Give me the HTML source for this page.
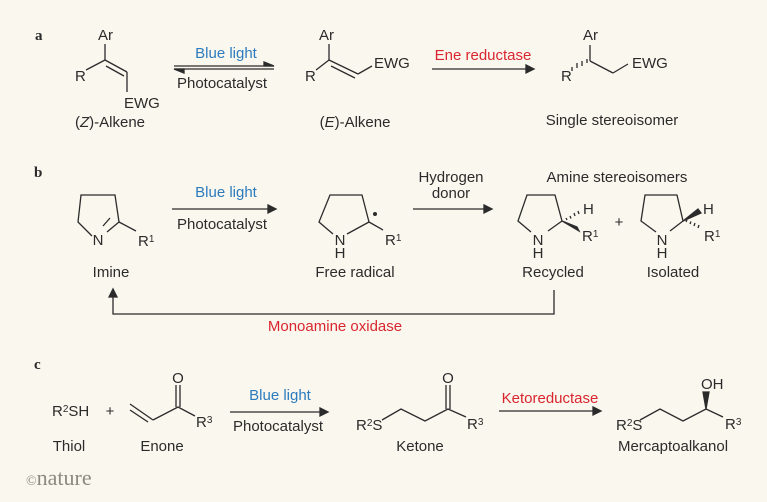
<!DOCTYPE html>
<html><head><meta charset="utf-8"><style>
html,body{margin:0;padding:0;background:#faf7ef;}
svg{display:block;}
text{font-family:"Liberation Sans",sans-serif;font-size:15px;fill:#2b2b2b;}
.m{text-anchor:middle;}
.b{fill:#2b7bbd;}
.r{fill:#d9262e;}
.s{font-size:10px;}
line,polyline,path{stroke:#2b2b2b;stroke-width:1.3;fill:none;}
.f{fill:#2b2b2b !important;}
</style></head><body>
<svg width="767" height="502" viewBox="0 0 767 502" xmlns="http://www.w3.org/2000/svg">
<rect width="767" height="502" fill="#faf7ef"/>
<!-- Panel a -->
<text x="35" y="40" style="font-weight:bold;font-family:'Liberation Serif',serif;font-size:15px">a</text>
<text x="98" y="40">Ar</text>
<line x1="105" y1="44" x2="105" y2="60"/>
<text x="75" y="81">R</text>
<line x1="86" y1="70" x2="105" y2="60"/>
<line x1="105" y1="60" x2="127" y2="72"/>
<line x1="106" y1="66" x2="124" y2="76"/>
<line x1="127" y1="72" x2="127" y2="92"/>
<text x="124" y="108">EWG</text>
<text class="m" x="110" y="127">(<tspan font-style="italic">Z</tspan>)-Alkene</text>
<text class="m b" x="226" y="58">Blue light</text>
<line x1="174" y1="66" x2="274" y2="66"/>
<path d="M264 62 L274 66 L264 66 Z" class="f" stroke-width="0.8"/>
<line x1="174" y1="69" x2="274" y2="69"/>
<path d="M184 73 L174 69 L184 69 Z" class="f" stroke-width="0.8"/>
<text class="m" x="222" y="88">Photocatalyst</text>
<text x="319" y="40">Ar</text>
<line x1="329" y1="44" x2="329" y2="60"/>
<text x="305" y="81">R</text>
<line x1="316" y1="70" x2="329" y2="60"/>
<line x1="329" y1="60" x2="358" y2="74"/>
<line x1="331" y1="66" x2="355" y2="78"/>
<line x1="358" y1="74" x2="372" y2="66"/>
<text x="374" y="68">EWG</text>
<text class="m" x="355" y="127">(<tspan font-style="italic">E</tspan>)-Alkene</text>
<text class="m r" x="483" y="60">Ene reductase</text>
<line x1="432" y1="69" x2="528" y2="69"/>
<path d="M526 65 L534 69 L526 73 Z" class="f" stroke="none"/>
<text x="583" y="40">Ar</text>
<line x1="590" y1="45" x2="590" y2="61"/>
<text x="561" y="81">R</text>
<path d="M572 71 l0 -4 M577 68 l0 -5 M582 66 l0 -5 M587 63 l0 -4" stroke-width="1.2"/>
<line x1="590" y1="61" x2="613" y2="73"/>
<line x1="613" y1="73" x2="628" y2="64"/>
<text x="632" y="68">EWG</text>
<text class="m" x="612" y="125">Single stereoisomer</text>
<!-- Panel b -->
<text x="34" y="177" style="font-weight:bold;font-family:'Liberation Serif',serif;font-size:15px">b</text>
<polyline points="92,236 78,222 81,195 115,195 119,222 107,232"/>
<line x1="110" y1="218" x2="103" y2="226"/>
<line x1="119" y1="222" x2="136" y2="231"/>
<text class="m" x="98" y="245">N</text>
<text x="138" y="246">R<tspan class="s" dy="-4">1</tspan></text>
<text class="m" x="111" y="277">Imine</text>
<text class="m b" x="226" y="197">Blue light</text>
<line x1="172" y1="209" x2="270" y2="209"/>
<path d="M268 205 L276 209 L268 213 Z" class="f" stroke="none"/>
<text class="m" x="222" y="229">Photocatalyst</text>
<polyline points="333,234 319,222 330,195 362,195 369,222 347,234"/>
<line x1="369" y1="222" x2="383" y2="230"/>
<circle cx="375" cy="214" r="2" fill="#2b2b2b"/>
<text class="m" x="340" y="245">N</text>
<text class="m" x="340" y="258">H</text>
<text x="385" y="245">R<tspan class="s" dy="-4">1</tspan></text>
<text class="m" x="355" y="277">Free radical</text>
<text class="m" x="451" y="182">Hydrogen</text>
<text class="m" x="451" y="198">donor</text>
<line x1="413" y1="209" x2="486" y2="209"/>
<path d="M484 205 L492 209 L484 213 Z" class="f" stroke="none"/>
<text class="m" x="617" y="182">Amine stereoisomers</text>
<polyline points="531,232 518,221 527,195 555,195 562,221 548,231"/>
<path d="M562 221 L577 227 L579 231 Z" class="f" stroke-width="0.8"/>
<path d="M566 218 l1 2 M570 216 l1 2.5 M574 213 l1 3 M578 211 l1 3" stroke-width="1.2"/>
<text x="583" y="214">H</text>
<text class="m" x="538" y="245">N</text>
<text class="m" x="538" y="258">H</text>
<text x="582" y="241">R<tspan class="s" dy="-4">1</tspan></text>
<text class="m" x="553" y="277">Recycled</text>
<text class="m" x="619" y="227">+</text>
<polyline points="656,232 641,221 645,195 677,195 683,221 670,231"/>
<path d="M683 221 L698 209 L701 213 Z" class="f" stroke-width="0.8"/>
<path d="M686 222 l1 -2 M690 224 l1 -2.5 M694 226 l1 -3 M698 228 l1 -3" stroke-width="1.2"/>
<text x="703" y="214">H</text>
<text class="m" x="662" y="245">N</text>
<text class="m" x="662" y="258">H</text>
<text x="704" y="241">R<tspan class="s" dy="-4">1</tspan></text>
<text class="m" x="673" y="277">Isolated</text>
<polyline points="554,290 554,314 113,314 113,294"/>
<path d="M109 297 L113 289 L117 297 Z" class="f" stroke="none"/>
<text class="m r" x="335" y="331">Monoamine oxidase</text>
<!-- Panel c -->
<text x="34" y="369" style="font-weight:bold;font-family:'Liberation Serif',serif;font-size:15px">c</text>
<text x="52" y="416">R<tspan class="s" dy="-4">2</tspan><tspan dy="4">SH</tspan></text>
<text class="m" x="110" y="416">+</text>
<line x1="130" y1="404" x2="153" y2="420"/>
<line x1="130" y1="410" x2="148" y2="422"/>
<polyline points="153,420 178,407 195,416"/>
<line x1="176" y1="407" x2="176" y2="385"/>
<line x1="180" y1="407" x2="180" y2="385"/>
<text class="m" x="178" y="383">O</text>
<text x="196" y="427">R<tspan class="s" dy="-4">3</tspan></text>
<text class="m" x="69" y="451">Thiol</text>
<text class="m" x="162" y="451">Enone</text>
<text class="m b" x="280" y="400">Blue light</text>
<line x1="230" y1="412" x2="322" y2="412"/>
<path d="M320 408 L328 412 L320 416 Z" class="f" stroke="none"/>
<text class="m" x="278" y="431">Photocatalyst</text>
<text x="356" y="430">R<tspan class="s" dy="-4">2</tspan><tspan dy="4">S</tspan></text>
<polyline points="382,420 401,409 425,421 448,409 466,417"/>
<line x1="446" y1="409" x2="446" y2="385"/>
<line x1="450" y1="409" x2="450" y2="385"/>
<text class="m" x="448" y="383">O</text>
<text x="467" y="429">R<tspan class="s" dy="-4">3</tspan></text>
<text class="m" x="420" y="451">Ketone</text>
<text class="m r" x="550" y="403">Ketoreductase</text>
<line x1="499" y1="411" x2="595" y2="411"/>
<path d="M593 407 L601 411 L593 415 Z" class="f" stroke="none"/>
<text x="616" y="430">R<tspan class="s" dy="-4">2</tspan><tspan dy="4">S</tspan></text>
<polyline points="640,420 660,409 683,421 706,409 723,417"/>
<path d="M706 409 L703 392 L709 392 Z" class="f" stroke="none"/>
<text x="701" y="389">OH</text>
<text x="725" y="429">R<tspan class="s" dy="-4">3</tspan></text>
<text class="m" x="673" y="451">Mercaptoalkanol</text>
<text x="26" y="485" style="font-family:'Liberation Serif',serif;font-size:22px;fill:#8c8a80"><tspan style="font-size:14px">©</tspan>nature</text>
</svg>
</body></html>
